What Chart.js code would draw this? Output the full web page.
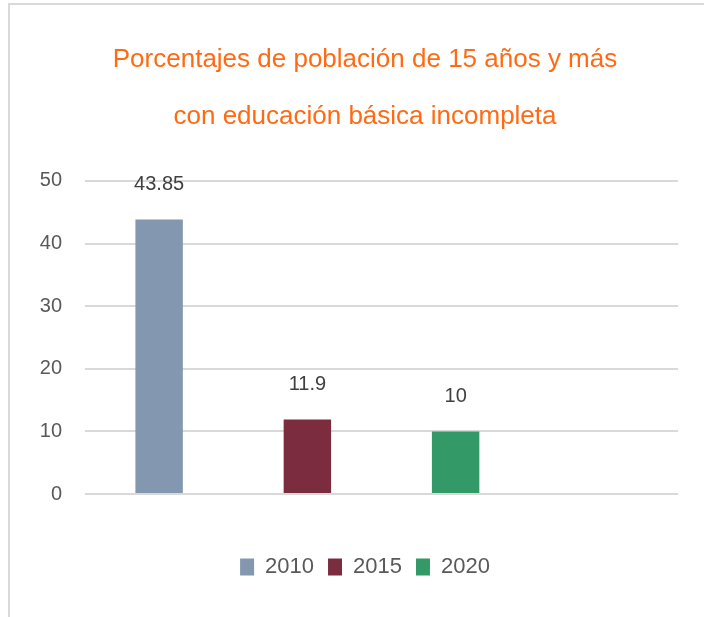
<!DOCTYPE html>
<html>
<head>
<meta charset="utf-8">
<script src="https://cdn.jsdelivr.net/npm/chart.js@4/dist/chart.umd.min.js"></script>
<style>
    html, body { margin: 0; padding: 0; background: #fff; overflow: hidden; }
    #wrap { position: relative; width: 704px; height: 617px; }
    #frame {
        position: absolute; left: 8px; top: 3px; width: 720px; height: 640px;
        border-left: 2px solid #d9d9d9; border-top: 2px solid #d9d9d9;
        pointer-events: none;
    }
</style>
</head>
<body>
<div id="wrap">
    <canvas id="chart" width="704" height="617"></canvas>
    <div id="frame"></div>
</div>
<script>
const titleLines = ['Porcentajes de población de 15 años y más', 'con educación básica incompleta'];
const categories = ['2010', '2015', '2020', ''];
const years = ['2010', '2015', '2020'];
const values = [43.85, 11.9, 10];
const barColors = ['#8497b0', '#7b2c3e', '#339966'];
const yTicks = [0, 10, 20, 30, 40, 50];

const FONT = "'Liberation Sans', Arial, sans-serif";

// one dataset per year so each year gets its own legend entry
const datasets = years.map((year, i) => ({
    label: year,
    data: categories.map((c, j) => (j === i ? values[i] : null)),
    backgroundColor: barColors[i],
    borderWidth: 0,
    categoryPercentage: 1,
    barPercentage: 0.32,
    skipNull: true
}));

const valueLabels = {
    id: 'valueLabels',
    afterDatasetsDraw(chart) {
        const ctx = chart.ctx;
        ctx.save();
        ctx.fillStyle = '#404040';
        ctx.font = '20px ' + FONT;
        ctx.textAlign = 'center';
        ctx.textBaseline = 'middle';
        chart.data.datasets.forEach((ds, i) => {
            const meta = chart.getDatasetMeta(i);
            meta.data.forEach((bar, j) => {
                if (ds.data[j] == null) return;
                ctx.fillText(String(ds.data[j]), bar.x, bar.y - 35);
            });
        });
        ctx.restore();
    }
};

new Chart(document.getElementById('chart'), {
    type: 'bar',
    data: { labels: categories, datasets: datasets },
    plugins: [valueLabels],
    options: {
        responsive: false,
        animation: false,
        devicePixelRatio: 1,
        layout: { padding: { left: 26, right: 0, top: 0, bottom: 29 } },
        plugins: {
            title: {
                display: true,
                text: titleLines,
                color: '#ff6a13',
                font: { family: FONT, size: 26, weight: 'normal', lineHeight: 2.19 },
                padding: { top: 31, bottom: 36 }
            },
            legend: {
                position: 'bottom',
                labels: {
                    color: '#595959',
                    font: { family: FONT, size: 22 },
                    boxWidth: 14,
                    boxHeight: 17,
                    padding: 14
                }
            },
            tooltip: { enabled: false }
        },
        scales: {
            x: {
                afterFit(scale) { scale.height = 48; },
                grid: { display: false },
                border: { display: false },
                ticks: { display: false }
            },
            y: {
                min: 0,
                max: 50,
                afterFit(scale) { scale.width = 59; },
                afterBuildTicks(scale) { scale.ticks = yTicks.map(v => ({ value: v })); },
                grid: { color: '#d9d9d9', lineWidth: 2, drawTicks: false },
                border: { display: false },
                ticks: {
                    color: '#595959',
                    font: { family: FONT, size: 20 },
                    padding: 23
                }
            },
            // empty right-hand margin, keeps the plot right edge where the reference has it
            yRight: {
                position: 'right',
                afterFit(scale) { scale.width = 26; },
                grid: { display: false },
                border: { display: false },
                ticks: { display: false }
            }
        }
    }
});
</script>
</body>
</html>
